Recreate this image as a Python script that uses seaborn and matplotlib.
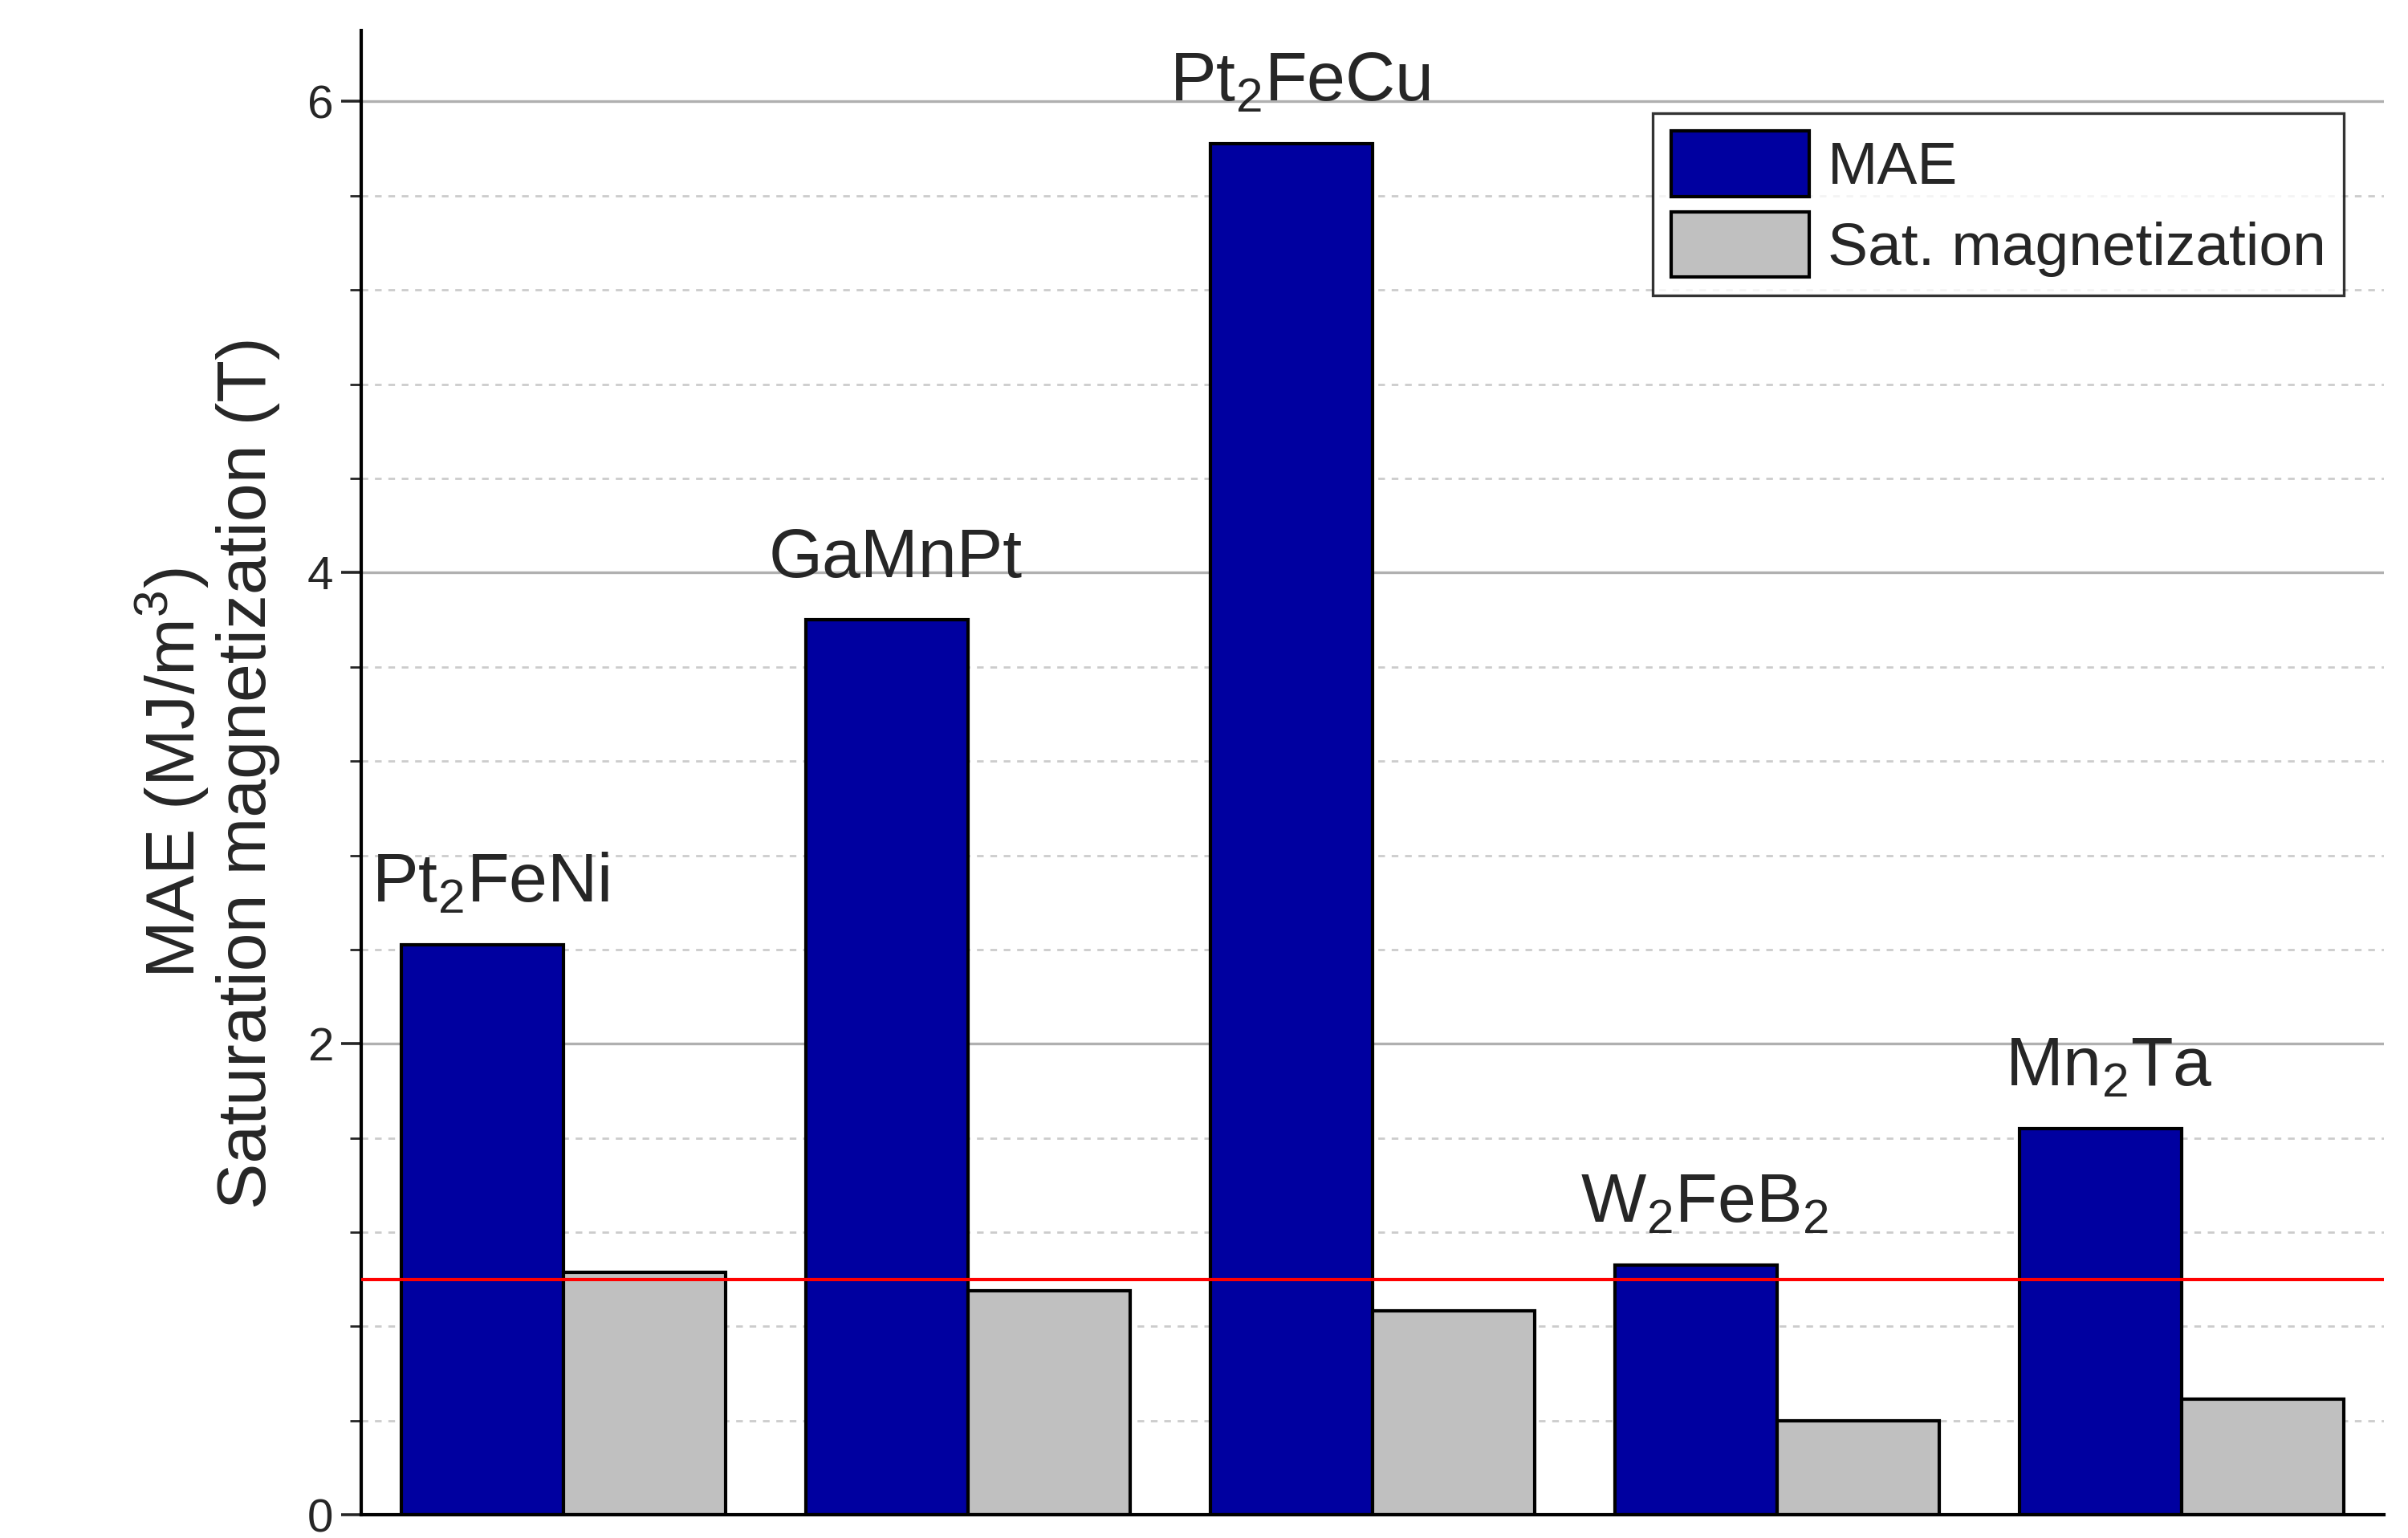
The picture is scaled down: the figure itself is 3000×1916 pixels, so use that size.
import matplotlib
matplotlib.use("Agg")
import matplotlib.pyplot as plt
import seaborn as sns
import pandas as pd
import numpy as np
from matplotlib.ticker import MultipleLocator

compounds = ["Pt$_2$FeNi", "GaMnPt", "Pt$_2$FeCu", "W$_2$FeB$_2$", "Mn$_2$Ta"]
mae = [2.42, 3.80, 5.82, 1.06, 1.64]
sat = [1.03, 0.95, 0.865, 0.40, 0.49]
series = ["MAE", "Sat. magnetization"]
ref_line = 1.0

df = pd.DataFrame({
    "compound": compounds * 2,
    "value": mae + sat,
    "series": [series[0]] * len(compounds) + [series[1]] * len(compounds),
})

sns.set_style("white")
plt.rcParams['font.family'] = ['Liberation Sans', 'DejaVu Sans']
plt.rcParams['mathtext.fontset'] = 'custom'
plt.rcParams['mathtext.rm'] = 'Liberation Sans'

fig = plt.figure(figsize=(15, 9.58), dpi=200)
ax = fig.add_axes([0.150, 0.015, 0.840, 0.965])

ax.yaxis.grid(True, which='major', color='#b0b0b0', lw=1.2, ls='-')
ax.yaxis.grid(True, which='minor', color='#cccccc', lw=1.0, ls=(0, (3, 3)))
ax.set_axisbelow(True)

sns.barplot(data=df, x="compound", y="value", hue="series",
            palette=["#0000a0", "#c0c0c0"], edgecolor="black", linewidth=1.5,
            width=0.8, gap=0, ax=ax, saturation=1)

ax.axhline(ref_line, color="red", lw=1.5, zorder=3)

for i, (name, v) in enumerate(zip(compounds, mae)):
    ax.text(i - 0.18, v + 0.12, name, ha="center", va="bottom", fontsize=31)

ax.set_xlim(-0.5, 4.5)
ax.set_ylim(0, 6.3)
ax.yaxis.set_major_locator(MultipleLocator(2))
ax.yaxis.set_minor_locator(MultipleLocator(0.4))
ax.tick_params(axis='y', which='major', direction='out', length=9, width=1.3, labelsize=21, left=True)
ax.tick_params(axis='y', which='minor', direction='out', length=5, width=1.0, left=True)
ax.set_xticks([])
ax.set_xlabel("")
ax.set_ylabel("MAE (MJ/m$^3$)\nSaturation magnetization (T)", fontsize=31, linespacing=1.1, labelpad=12)
for s in ["top", "right"]:
    ax.spines[s].set_visible(False)
for s in ["left", "bottom"]:
    ax.spines[s].set_color("black")
    ax.spines[s].set_linewidth(1.5)

leg = ax.legend(loc="upper right", bbox_to_anchor=(0.995, 0.965), fontsize=27,
                frameon=True, fancybox=False, edgecolor="black",
                handlelength=2.3, handleheight=1.3, borderpad=0.3, labelspacing=0.25,
                handletextpad=0.3)
leg.get_frame().set_linewidth(1.2)

fig.savefig("out.png", dpi=200)
